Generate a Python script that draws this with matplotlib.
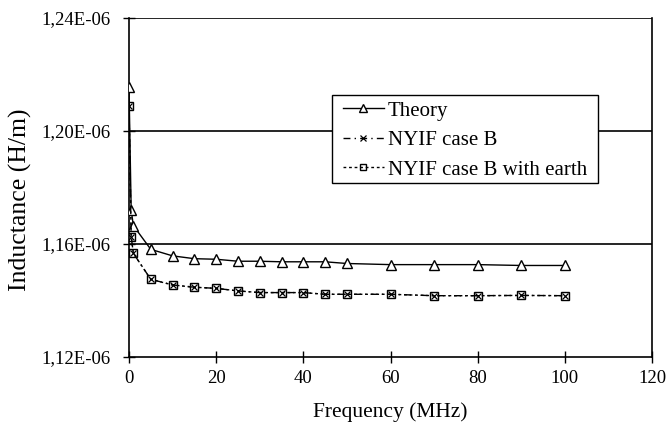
import matplotlib
matplotlib.use("Agg")
import matplotlib.pyplot as plt
from matplotlib.ticker import FuncFormatter
from matplotlib.patches import Rectangle

freq = [0, 0.5, 1, 5, 10, 15, 20, 25, 30, 35, 40, 45, 50, 60, 70, 80, 90, 100]
theory = [1.2155e-6, 1.1720e-6, 1.1665e-6, 1.1581e-6, 1.1558e-6, 1.1548e-6, 1.1546e-6,
          1.1539e-6, 1.1539e-6, 1.1537e-6, 1.1537e-6, 1.1537e-6, 1.1531e-6, 1.1527e-6,
          1.1527e-6, 1.1527e-6, 1.1524e-6, 1.1524e-6]
nyif_b = [1.2089e-6, 1.1626e-6, 1.1567e-6, 1.1475e-6, 1.1455e-6, 1.1447e-6, 1.1443e-6,
          1.1434e-6, 1.1428e-6, 1.1428e-6, 1.1428e-6, 1.1422e-6, 1.1422e-6, 1.1422e-6,
          1.1417e-6, 1.1417e-6, 1.1418e-6, 1.1417e-6]
nyif_b_earth = list(nyif_b)

plt.rcParams['font.family'] = ['Liberation Serif', 'DejaVu Serif']

W, H = 668, 422
L, R, T, B = 129, 652, 18, 357
fig = plt.figure(figsize=(W/100, H/100), dpi=100)
ax = fig.add_axes([L/W, 1 - B/H, (R-L)/W, (B-T)/H])

ax.plot(freq, theory, '-', color='black', lw=1.0, marker='^', ms=7,
        mfc='white', mec='black', mew=1.0, label='Theory', zorder=3)
ax.plot(freq, nyif_b, linestyle=(0, (5, 3, 1, 3)), color='black', lw=1.0, marker='x', ms=5,
        mec='black', mew=0.9, label='NYIF case B', zorder=3)
ax.plot(freq, nyif_b_earth, linestyle=(0, (2, 2)), color='black', lw=1.0, marker='s', ms=6,
        mfc='none', mec='black', mew=1.0, label='NYIF case B with earth', zorder=3)

ax.set_xlim(0, 120)
ax.set_ylim(1.12e-6, 1.24e-6)
ax.set_xticks([0, 20, 40, 60, 80, 100, 120])
ax.set_yticks([1.12e-6, 1.16e-6, 1.20e-6, 1.24e-6])
ax.yaxis.set_major_formatter(FuncFormatter(lambda v, p: f"{v*1e6:.2f}".replace('.', ',') + "E-06"))
for yv in [1.16e-6, 1.20e-6, 1.24e-6]:
    ax.axhline(yv, color='black', lw=1.2, zorder=1)

ax.spines['top'].set_visible(False)
for s in ['left', 'right', 'bottom']:
    ax.spines[s].set_linewidth(1.2)

ax.tick_params(axis='both', direction='inout', length=9, width=1.0, labelsize=13.5, colors='black')
ax.tick_params(axis='x', pad=5)
ax.tick_params(axis='y', pad=9)

ax.set_xlabel('Frequency (MHz)', fontsize=15.5, labelpad=11)
ax.set_ylabel('Inductance (H/m)', fontsize=18.5)
ax.yaxis.set_label_coords((20 - L)/(R-L), (B-200)/(B-T))
ax.yaxis.label.set_verticalalignment('center')

# legend frame drawn separately (different horizontal / vertical padding)
box = Rectangle((332/W, 1 - 183/H), (598-332)/W, (183-95)/H, transform=fig.transFigure,
                facecolor='white', edgecolor='black', lw=1.0, zorder=4)
ax.add_artist(box)
box.set_clip_on(False)

leg = ax.legend(loc='upper left', bbox_to_anchor=(343/W, 1 - 101/H),
                bbox_transform=fig.transFigure,
                fontsize=15, frameon=False, borderpad=0, labelspacing=0.48,
                handlelength=1.95, handletextpad=0.2, borderaxespad=0, markerscale=0.75)
leg.set_zorder(5)

fig.savefig('out.png', dpi=100)
